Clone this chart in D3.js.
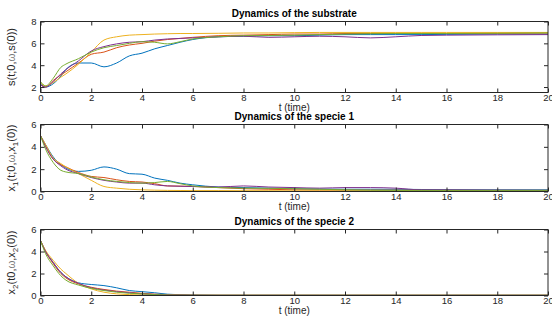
<!DOCTYPE html>
<html><head><meta charset="utf-8">
<script src="https://cdn.jsdelivr.net/npm/d3@7"></script>
<style>
body{margin:0;background:#fff;}
svg{display:block;font-family:"Liberation Sans",Arial,sans-serif;}
</style></head><body>
<svg id="c" width="552" height="318"></svg>
<script>
// ---- data ----
const time = [0,0.2,0.5,0.8,1,1.5,2,2.5,3,3.5,4,4.5,5,5.5,6,7,8,9,10,11,12,13,14,15,16,18,20];
const seriesNames = ["blue","orange","yellow","purple","green"];
const seriesColors = ["#0072BD","#D95319","#EDB120","#7E2F8E","#77AC30"];

const sBlue   = [2.3,2.0,2.3,3.0,3.6,4.2,4.2,3.85,4.2,4.85,5.1,5.5,5.8,6.1,6.35,6.6,6.65,6.7,6.7,6.75,6.8,6.8,6.8,6.8,6.82,6.85,6.85];
const sOrange = [2.2,2.0,2.6,3.1,3.4,4.2,5.0,5.2,5.6,5.85,6.0,6.2,6.35,6.45,6.55,6.7,6.75,6.8,6.85,6.85,6.9,6.9,6.9,6.9,6.9,6.92,6.95];
const sYellow = [2.4,2.1,2.4,2.9,3.2,4.1,5.2,6.3,6.6,6.75,6.8,6.85,6.88,6.9,6.9,6.92,6.95,6.95,6.98,7.0,7.0,7.0,7.0,7.0,7.0,7.0,7.0];
const sPurple = [2.2,2.0,2.5,3.2,3.6,4.4,5.3,5.7,5.95,6.1,6.15,6.3,6.4,6.45,6.5,6.6,6.65,6.55,6.6,6.65,6.6,6.5,6.6,6.72,6.75,6.78,6.8];
const sGreen  = [2.5,2.1,2.8,3.8,4.1,4.6,5.2,5.6,5.8,6.0,6.15,6.1,5.95,6.15,6.4,6.6,6.7,6.72,6.75,6.8,6.85,6.88,6.9,6.9,6.9,6.92,6.95];

const x1Blue   = [5.0,4.2,3.1,2.4,2.1,1.8,1.9,2.2,2.0,1.6,1.55,1.2,1.0,0.75,0.6,0.4,0.35,0.3,0.25,0.22,0.2,0.2,0.2,0.18,0.16,0.15,0.15];
const x1Orange = [5.0,4.1,2.9,2.4,2.2,1.7,1.35,1.25,1.05,0.9,0.85,0.7,0.5,0.48,0.45,0.35,0.25,0.2,0.15,0.13,0.12,0.12,0.12,0.11,0.1,0.1,0.1];
const x1Yellow = [5.0,4.2,3.0,2.5,2.2,1.6,1.0,0.45,0.3,0.2,0.15,0.12,0.1,0.09,0.08,0.08,0.07,0.07,0.06,0.06,0.05,0.05,0.05,0.05,0.05,0.05,0.05];
const x1Purple = [5.0,4.0,2.9,2.3,2.0,1.6,1.25,1.0,0.85,0.75,0.75,0.6,0.5,0.47,0.45,0.4,0.5,0.4,0.35,0.3,0.35,0.35,0.3,0.15,0.15,0.12,0.1];
const x1Green  = [5.0,3.8,2.6,1.9,1.75,1.6,1.3,1.05,0.9,0.8,0.75,0.8,0.9,0.7,0.5,0.35,0.3,0.28,0.25,0.2,0.15,0.12,0.1,0.1,0.1,0.1,0.1];

const x2Blue   = [5.0,4.0,3.0,2.1,1.7,1.15,1.0,0.9,0.7,0.45,0.35,0.25,0.12,0.08,0.05,0.02,0.02,0.02,0.02,0.02,0.02,0.02,0.02,0.02,0.02,0.02,0.02];
const x2Orange = [5.0,4.0,2.9,2.0,1.6,1.05,0.75,0.55,0.4,0.3,0.2,0.12,0.08,0.05,0.03,0.02,0.02,0.02,0.02,0.02,0.02,0.02,0.02,0.02,0.02,0.02,0.02];
const x2Yellow = [5.0,4.1,3.2,2.4,2.0,1.1,0.6,0.3,0.15,0.08,0.05,0.03,0.02,0.02,0.02,0.02,0.02,0.02,0.02,0.02,0.02,0.02,0.02,0.02,0.02,0.02,0.02];
const x2Purple = [5.0,4.0,3.0,2.1,1.7,1.1,0.7,0.5,0.35,0.25,0.15,0.1,0.07,0.04,0.02,0.02,0.02,0.02,0.02,0.02,0.02,0.02,0.02,0.02,0.02,0.02,0.02];
const x2Green  = [5.0,3.8,2.7,1.8,1.4,0.95,0.65,0.45,0.3,0.2,0.15,0.08,0.05,0.03,0.02,0.02,0.02,0.02,0.02,0.02,0.02,0.02,0.02,0.02,0.02,0.02,0.02];

const xTicks = [0,2,4,6,8,10,12,14,16,18,20];
const sTicks = [2,4,6,8];
const xTicksY = [0,2,4,6];
const titles = ["Dynamics of the substrate","Dynamics of the specie 1","Dynamics of the specie 2"];
const xLabel = "t (time)";

// ---- layout ----
const svg = d3.select("#c");
const L = 40.5, R = 548;
const panels = [
  {top:21.5, bottom:92.5, domain:[1.5,8], ticks:sTicks, data:[sBlue,sOrange,sYellow,sPurple,sGreen], title:titles[0], ylab:[["s(t;0,",""],["ω","w"],[",s(0))",""]]},
  {top:124.5, bottom:191.5, domain:[0,6], ticks:xTicksY, data:[x1Blue,x1Orange,x1Yellow,x1Purple,x1Green], title:titles[1], ylab:[["x",""],["1","sub"],["(t;0,",""],["ω","w"],[",x",""],["1","sub"],["(0))",""]]},
  {top:229.5, bottom:295.5, domain:[0,6], ticks:xTicksY, data:[x2Blue,x2Orange,x2Yellow,x2Purple,x2Green], title:titles[2], ylab:[["x",""],["2","sub"],["(t0,",""],["ω","w"],[",x",""],["2","sub"],["(0))",""]]}
];
const axisColor = "#262626";
const x = d3.scaleLinear().domain([0,20]).range([L,R]);

panels.forEach((p,i)=>{
  const y = d3.scaleLinear().domain(p.domain).range([p.bottom,p.top]);
  const g = svg.append("g");
  const cid = "clip"+i;
  svg.append("clipPath").attr("id",cid).append("rect").attr("x",L).attr("y",p.top).attr("width",R-L).attr("height",p.bottom-p.top);

  const line = d3.line().x((d,j)=>x(time[j])).y(d=>y(d)).curve(d3.curveMonotoneX);
  const lg = g.append("g").attr("clip-path",`url(#${cid})`);
  p.data.forEach((arr,k)=>{
    lg.append("path").datum(arr).attr("d",line).attr("fill","none")
      .attr("stroke",seriesColors[k]).attr("stroke-width",1);
  });

  const tl = 4;
  const bottomAx = d3.axisBottom(x).tickValues(xTicks).tickSize(-tl).tickPadding(1.5).tickFormat(d3.format("d"));
  const topAx = d3.axisTop(x).tickValues(xTicks).tickSize(-tl).tickFormat("");
  const leftAx = d3.axisLeft(y).tickValues(p.ticks).tickSize(-tl).tickPadding(4).tickFormat(d3.format("d"));
  const rightAx = d3.axisRight(y).tickValues(p.ticks).tickSize(-tl).tickFormat("");
  const styleAx = sel => {
    sel.selectAll("path").attr("stroke",axisColor).attr("stroke-width",1);
    sel.selectAll("line").attr("stroke",axisColor).attr("stroke-width",1);
    sel.selectAll("text").attr("fill",axisColor).attr("font-size","9.5px").attr("font-family","Liberation Sans, Arial, sans-serif");
  };
  g.append("g").attr("transform",`translate(0,${p.bottom})`).call(bottomAx).call(styleAx).call(s=>s.selectAll("path").attr("d",`M${L},0H${R}`));
  g.append("g").attr("transform",`translate(0,${p.top})`).call(topAx).call(styleAx).call(s=>s.selectAll("path").attr("d",`M${L},0H${R}`));
  g.append("g").attr("transform",`translate(${L},0)`).call(leftAx).call(styleAx).call(s=>s.selectAll("path").attr("d",`M0,${p.top}V${p.bottom}`));
  g.append("g").attr("transform",`translate(${R},0)`).call(rightAx).call(styleAx).call(s=>s.selectAll("path").attr("d",`M0,${p.top}V${p.bottom}`));

  // x label
  g.append("text").attr("x",(L+R)/2).attr("y",p.bottom+18).attr("text-anchor","middle")
    .attr("font-size","10px").attr("fill",axisColor).text(xLabel);
  // title
  g.append("text").attr("x",(L+R)/2).attr("y",p.top-5).attr("text-anchor","middle")
    .attr("font-size","10px").attr("font-weight","bold").attr("fill","#000").text(p.title);
  // y label
  const yt = g.append("text").attr("transform",`translate(15,${(p.top+p.bottom)/2}) rotate(-90)`)
    .attr("text-anchor","middle").attr("font-size","11px").attr("fill",axisColor);
  p.ylab.forEach(([t,kind],j)=>{
    const ts = yt.append("tspan").text(t);
    if(kind==="sub"){ ts.attr("font-size","8px").attr("dy","3"); }
    else if(j>0 && p.ylab[j-1][1]==="sub"){ ts.attr("dy","-3"); }
    if(kind==="w"){ ts.attr("fill","#777").attr("font-size","10px"); }
  });
});
</script>
</body></html>
